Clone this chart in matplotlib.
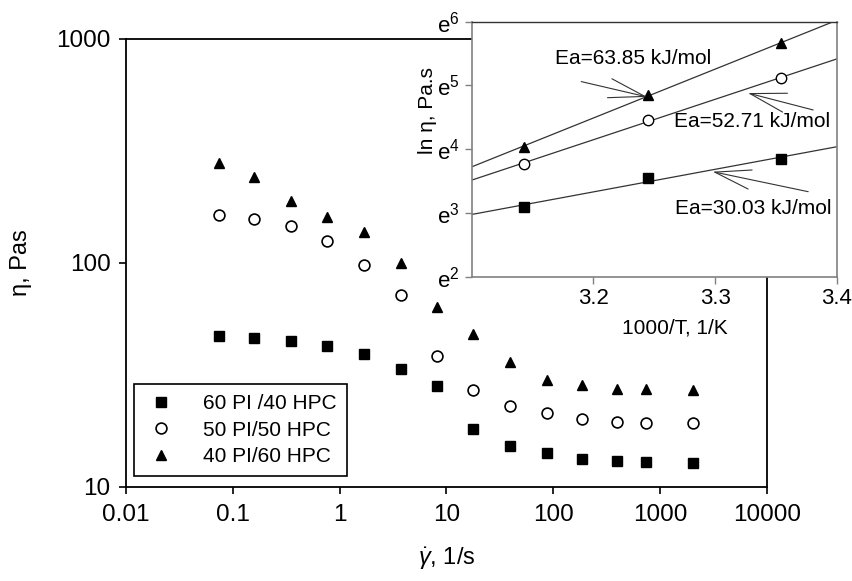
import numpy as np
import matplotlib
matplotlib.use("Agg")
import matplotlib.pyplot as plt

# --- fonts: Arial-like look ---
plt.rcParams['font.family'] = ['Liberation Sans', 'DejaVu Sans']
plt.rcParams['mathtext.fontset'] = 'custom'
plt.rcParams['mathtext.rm'] = 'Liberation Sans'
plt.rcParams['mathtext.it'] = 'Liberation Sans:italic'
plt.rcParams['mathtext.bf'] = 'Liberation Sans:bold'

# --- main plot data: viscosity vs shear rate ---
shear_rate = [0.074, 0.158, 0.348, 0.767, 1.70, 3.73, 8.11, 17.9, 39.4, 86.9, 186, 393, 740, 2050]
eta_60_40 = [47.2, 46.3, 45.0, 42.8, 39.3, 33.5, 28.3, 18.1, 15.3, 14.2, 13.4, 13.0, 12.9, 12.8]
eta_50_50 = [163, 157, 146, 125, 98, 72, 38.5, 27.1, 23.0, 21.4, 20.2, 19.5, 19.4, 19.4]
eta_40_60 = [279, 241, 190, 160, 138, 100, 63.3, 48.2, 36.0, 30.0, 28.4, 27.3, 27.3, 27.1]
series_labels = ['60 PI /40 HPC', '50 PI/50 HPC', '40 PI/60 HPC']

x_ticks = [0.01, 0.1, 1, 10, 100, 1000, 10000]
x_ticklabels = ['0.01', '0.1', '1', '10', '100', '1000', '10000']
y_ticks = [10, 100, 1000]
y_ticklabels = ['10', '100', '1000']

# --- inset data: Arrhenius plot ---
inv_T = [3.1427, 3.2446, 3.3540]
ln_eta_60_40 = [3.10, 3.54, 3.85]
ln_eta_50_50 = [3.77, 4.46, 5.11]
ln_eta_40_60 = [4.04, 4.85, 5.66]
ea_labels = ['Ea=63.85 kJ/mol', 'Ea=52.71 kJ/mol', 'Ea=30.03 kJ/mol']
inset_xticks = [3.2, 3.3, 3.4]
inset_yticks = [2, 3, 4, 5, 6]

fig = plt.figure(figsize=(8.53, 5.81), dpi=100)

# ===== main axes =====
ax = fig.add_axes([0.1477, 0.1618, 0.7511, 0.7711])
mk = dict(linestyle='none', markersize=7.8, markeredgecolor='black')
ax.plot(shear_rate, eta_60_40, marker='s', color='black', label=series_labels[0], **mk)
ax.plot(shear_rate, eta_50_50, marker='o', markerfacecolor='white', color='black',
        markeredgewidth=1.2, label=series_labels[1], **mk)
ax.plot(shear_rate, eta_40_60, marker='^', color='black', label=series_labels[2], **mk)

ax.set_xscale('log')
ax.set_yscale('log')
ax.set_xlim(0.01, 10000)
ax.set_ylim(10, 1000)
ax.set_xticks(x_ticks)
ax.set_xticklabels(x_ticklabels)
ax.set_yticks(y_ticks)
ax.set_yticklabels(y_ticklabels)
ax.minorticks_off()
ax.tick_params(direction='out', length=5, width=1.2, labelsize=17.5)
ax.tick_params(axis='x', pad=7)
ax.tick_params(axis='y', pad=6)
for s in ax.spines.values():
    s.set_linewidth(1.3)

ax.set_ylabel('η, Pas', fontsize=17)
ax.yaxis.set_label_coords(-0.147, 0.5)
ax.set_xlabel(r'$\dot{\gamma}$, 1/s', fontsize=17)
ax.xaxis.set_label_coords(0.5, -0.13)

leg = ax.legend(loc='lower left', bbox_to_anchor=(0.0125, 0.024), borderaxespad=0,
                fontsize=15, fancybox=False, edgecolor='black', framealpha=1,
                handletextpad=1.2, labelspacing=0.35, borderpad=0.5, handlelength=1.6)
leg.get_frame().set_linewidth(1.2)

# ===== inset axes =====
ins = fig.add_axes([0.553, 0.5238, 0.428, 0.4389])
ins.set_facecolor('white')
ins.set_xlim(3.1, 3.4)
ins.set_ylim(2, 6)

x_line = np.array([3.1, 3.4])
for ln_eta, m, fc in [(ln_eta_40_60, '^', 'black'),
                      (ln_eta_50_50, 'o', 'white'),
                      (ln_eta_60_40, 's', 'black')]:
    k, b = np.polyfit(inv_T, ln_eta, 1)
    ins.plot(x_line, k * x_line + b, color='#333333', lw=0.9, zorder=2)
    ins.plot(inv_T, ln_eta, marker=m, linestyle='none', markersize=7.5,
             markerfacecolor=fc, markeredgecolor='black', markeredgewidth=1.0, zorder=3)

ins.set_xticks(inset_xticks)
ins.set_xticklabels(['%.1f' % v for v in inset_xticks])
ins.set_yticks(inset_yticks)
ins.set_yticklabels([r'e$^{%d}$' % n for n in inset_yticks])
ins.tick_params(direction='out', length=5, width=1, labelsize=16, color='#808080')
for s in ins.spines.values():
    s.set_color('#808080')
    s.set_linewidth(1.2)
ins.spines['top'].set_color('#333333')
ins.spines['top'].set_linewidth(1.0)

ins.set_xlabel('1000/T, 1/K', fontsize=15)
ins.xaxis.set_label_coords(0.557, -0.165)
ins.set_ylabel('ln η, Pa.s', fontsize=15)
ins.yaxis.set_label_coords(-0.095, 0.65)

# --- activation energy annotations ---
arrow = dict(arrowstyle='->, head_length=2.6, head_width=0.7', color='#333333',
             lw=0.8, shrinkA=0, shrinkB=0, mutation_scale=10)
ins.text(3.2326, 5.43, ea_labels[0], fontsize=15, ha='center', va='center')
ins.annotate('', xy=(3.244, 4.82), xytext=(3.190, 5.06), arrowprops=arrow)
ins.text(3.330, 4.43, ea_labels[1], fontsize=15, ha='center', va='center')
ins.annotate('', xy=(3.327, 4.88), xytext=(3.3806, 4.615), arrowprops=arrow)
ins.text(3.3316, 3.073, ea_labels[2], fontsize=15, ha='center', va='center')
ins.annotate('', xy=(3.298, 3.647), xytext=(3.3765, 3.333), arrowprops=arrow)

fig.savefig('out.png', dpi=100)
